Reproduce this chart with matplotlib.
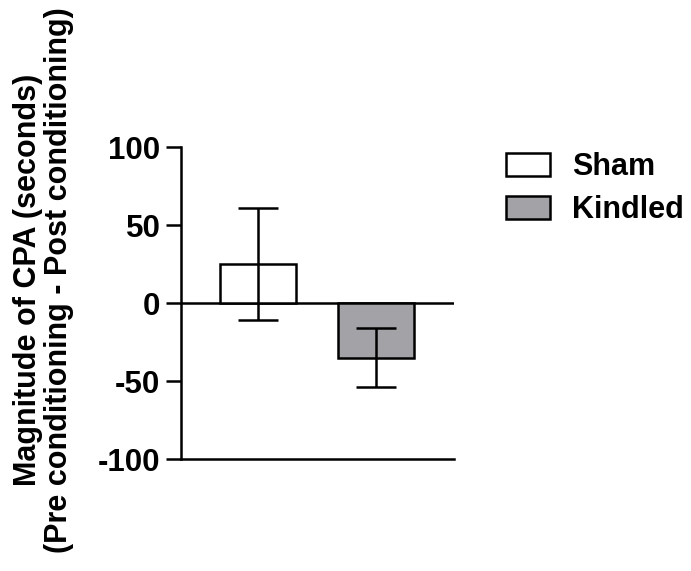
import matplotlib
matplotlib.use("Agg")
import matplotlib.pyplot as plt
from matplotlib.patches import Patch

# data
groups = ["Sham", "Kindled"]
means = [25, -35]
errors = [36, 19]
colors = ["white", "#a3a3a7"]
yticks = [-100, -50, 0, 50, 100]

plt.rcParams["font.family"] = ["Liberation Sans", "DejaVu Sans"]
plt.rcParams["font.weight"] = "bold"

LW = 1.8

fig = plt.figure(figsize=(6.91, 5.71), dpi=100)
ax = fig.add_axes([0.262, 0.196, 0.395, 0.546])

x = list(range(len(groups)))
ax.axhline(0, color="black", lw=LW, zorder=1)
ax.bar(x, means, width=0.646, color=colors, edgecolor="black",
       linewidth=LW, zorder=2)
ax.errorbar(x, means, yerr=errors, fmt="none", ecolor="black",
            elinewidth=LW, capsize=14.4, capthick=LW, zorder=3)

ax.set_xlim(-0.654, 1.665)
ax.set_ylim(-100, 100)
ax.set_yticks(yticks)
ax.set_yticklabels([str(t) for t in yticks], fontsize=22.5, fontweight="bold")
ax.set_xticks([])
ax.tick_params(axis="y", length=10.8, width=LW, pad=4.0, direction="out")

for side in ["top", "right"]:
    ax.spines[side].set_visible(False)
for side in ["left", "bottom"]:
    ax.spines[side].set_linewidth(LW)

fig.text(0.063, 0.51,
         "Magnitude of CPA (seconds)\n(Pre conditioning - Post conditioning)",
         rotation=90, ha="center", va="center", fontsize=22,
         fontweight="bold", linespacing=1.05)

handles = [Patch(facecolor=c, edgecolor="black", linewidth=LW, label=g)
           for g, c in zip(groups, colors)]
fig.legend(handles=handles, loc="upper left",
           bbox_to_anchor=(506 / 691, 1 - 152 / 571), frameon=False,
           prop={"size": 22, "weight": "bold"}, borderpad=0,
           handlelength=1.45, handleheight=0.8, handletextpad=0.7,
           labelspacing=0.42, borderaxespad=0)

fig.savefig("out.png", dpi=100, facecolor="white")
